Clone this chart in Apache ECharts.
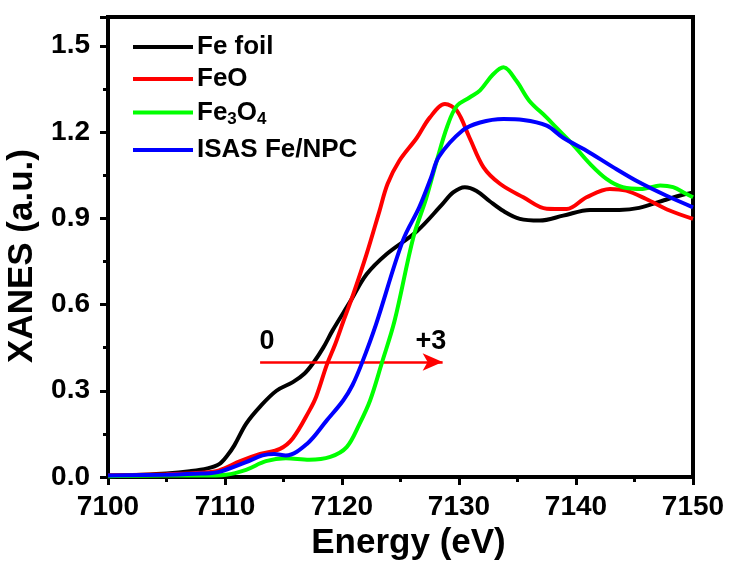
<!DOCTYPE html>
<html>
<head>
<meta charset="utf-8">
<script src="https://cdn.jsdelivr.net/npm/echarts@6/dist/echarts.min.js"></script>
<style>html,body{margin:0;padding:0;background:#fff;}#c{width:735px;height:561px;}</style>
</head>
<body>
<div id="c"></div>
<script>
// ---- data (Energy eV, XANES a.u.) ----
const seriesNames = ['Fe foil', 'FeO', 'Fe3O4', 'ISAS Fe/NPC'];
const feFoil = [[7100,0.005],[7103,0.008],[7105,0.012],[7107,0.02],[7108.5,0.03],[7109.5,0.045],[7110.2,0.075],[7110.8,0.11],[7111.8,0.185],[7113,0.245],[7114.4,0.30],[7115.8,0.33],[7116.8,0.36],[7117.6,0.40],[7118.4,0.45],[7119.2,0.51],[7120.7,0.61],[7122.1,0.705],[7123.8,0.775],[7126.4,0.855],[7128.6,0.95],[7129.5,0.99],[7130.5,1.008],[7131.5,0.995],[7132.6,0.96],[7133.8,0.925],[7135.2,0.898],[7136.9,0.892],[7138.9,0.909],[7141.2,0.929],[7143.7,0.929],[7145.4,0.936],[7147.4,0.961],[7148.9,0.979],[7150,0.99]];
const feO = [[7100,0.005],[7105,0.01],[7108,0.015],[7109.5,0.023],[7111.3,0.055],[7113,0.08],[7114.7,0.098],[7115.8,0.135],[7117.2,0.23],[7117.8,0.28],[7118.7,0.39],[7119.4,0.46],[7120.1,0.54],[7121,0.64],[7122.1,0.775],[7123.2,0.925],[7123.9,1.02],[7124.9,1.10],[7126.4,1.18],[7127.5,1.25],[7128.8,1.297],[7129.8,1.275],[7130.9,1.18],[7132.1,1.077],[7133.5,1.02],[7135.5,0.973],[7137.5,0.933],[7139.2,0.932],[7140.9,0.973],[7142.9,1.002],[7144.3,0.996],[7146,0.967],[7148,0.927],[7150,0.898]];
const fe3o4 = [[7100,0.003],[7105,0.005],[7108,0.005],[7110.1,0.008],[7111.8,0.025],[7113.5,0.055],[7115.2,0.065],[7117.2,0.06],[7119,0.07],[7120.4,0.104],[7121.5,0.185],[7122.4,0.266],[7123.4,0.396],[7124.5,0.544],[7126.1,0.834],[7127.2,0.97],[7128.1,1.10],[7129,1.22],[7129.8,1.29],[7130.9,1.32],[7131.8,1.345],[7132.9,1.40],[7133.8,1.425],[7134.9,1.378],[7136,1.309],[7137.5,1.25],[7138.3,1.216],[7139.7,1.158],[7141.2,1.089],[7142.6,1.037],[7144,1.008],[7145.7,1.002],[7147.2,1.014],[7148.3,1.008],[7149.4,0.985],[7150,0.973]];
const isasFeNPC = [[7100,0.005],[7105,0.008],[7108,0.012],[7109.5,0.018],[7111.8,0.052],[7113.2,0.075],[7114.2,0.08],[7115.2,0.075],[7117,0.115],[7118.7,0.197],[7120.1,0.266],[7120.9,0.32],[7121.7,0.396],[7122.9,0.53],[7125.2,0.822],[7126.6,0.938],[7127.6,1.04],[7128.3,1.115],[7130.3,1.205],[7131.8,1.233],[7133.8,1.245],[7135.5,1.242],[7137.5,1.222],[7138.9,1.18],[7140.9,1.135],[7143.2,1.077],[7145.4,1.025],[7147.7,0.979],[7150,0.938]];
const arrowStart = [7113, 0.4];
const arrowEnd = [7128.6, 0.4];
const annotations = [{ name: '0', value: [7113.6, 0.47] }, { name: '+3', value: [7127.6, 0.47] }];
const xTicks = { min: 7100, max: 7150, interval: 10 };
const yTicks = { min: 0, max: 1.6, interval: 0.3 };

const FONT = 'Arial, "Liberation Sans", sans-serif';
const colors = ['#000000', '#ff0000', '#00ff00', '#0000ff'];
const dataSets = [feFoil, feO, fe3o4, isasFeNPC];
const legendCenters = [47, 79, 112, 150];

const chart = echarts.init(document.getElementById('c'), null, { renderer: 'canvas' });

const series = seriesNames.map((n, i) => ({
  name: n, type: 'line', data: dataSets[i], smooth: 0.35, showSymbol: false,
  lineStyle: { color: colors[i], width: 4 }, itemStyle: { color: colors[i] },
  z: 3 + i
}));
series.push({
  name: 'arrow', type: 'line', data: [], showSymbol: false,
  markLine: {
    silent: true, symbol: ['none', 'arrow'], symbolSize: [13, 20],
    lineStyle: { color: '#ff0000', width: 2.5, type: 'solid' }, label: { show: false },
    emphasis: { disabled: true },
    data: [[{ coord: arrowStart }, { coord: arrowEnd }]]
  },
  z: 10
});
series.push({
  name: 'notes', type: 'scatter', data: annotations, symbolSize: 1, silent: true,
  itemStyle: { color: 'rgba(0,0,0,0)' },
  label: { show: true, position: 'inside', formatter: p => p.name, color: '#000', opacity: 1,
    fontFamily: FONT, fontWeight: 'bold', fontSize: 27 },
  emphasis: { disabled: true },
  z: 11
});

const legends = seriesNames.map((n, i) => ({
  data: [n], orient: 'vertical', left: 133, top: legendCenters[i] - 15, padding: 0,
  icon: 'rect', itemWidth: 60, itemHeight: 4, itemGap: 0, selectedMode: false,
  formatter: name => name === 'Fe3O4' ? '{t|Fe}{s|3}{t|O}{s|4}' : '{t|' + name + '}',
  textStyle: {
    color: '#000', fontFamily: FONT, fontWeight: 'bold', fontSize: 26, lineHeight: 30, padding: [0,0,0,-1],
    rich: {
      t: { fontFamily: FONT, fontWeight: 'bold', fontSize: 26, lineHeight: 30, color: '#000' },
      s: { fontFamily: FONT, fontWeight: 'bold', fontSize: 17, lineHeight: 30, color: '#000', padding: [14, 0, 0, 0] }
    }
  }
}));

chart.setOption({
  animation: false,
  backgroundColor: '#fff',
  grid: { left: 108, right: 42, top: 17, bottom: 84, show: true, borderColor: '#000', borderWidth: 4,
    containLabel: false, outerBoundsMode: 'none' },
  legend: legends,
  xAxis: {
    type: 'value', min: xTicks.min, max: xTicks.max, interval: xTicks.interval,
    name: 'Energy (eV)', nameLocation: 'middle', nameGap: 44,
    nameTextStyle: { fontFamily: FONT, fontWeight: 'bold', fontSize: 35, color: '#000', padding: [0, 0, 0, 16] },
    axisLine: { show: true, onZero: false, lineStyle: { color: '#000', width: 4 } },
    axisTick: { show: true, inside: false, length: 8, lineStyle: { color: '#000', width: 3 } },
    minorTick: { show: true, splitNumber: 2, length: 5, lineStyle: { color: '#000', width: 3 } },
    axisLabel: { fontFamily: FONT, fontWeight: 'bold', fontSize: 28, color: '#000', margin: 16,
      formatter: v => String(v) },
    splitLine: { show: false }
  },
  yAxis: {
    type: 'value', min: yTicks.min, max: yTicks.max, interval: yTicks.interval,
    name: 'XANES (a.u.)', nameLocation: 'middle', nameGap: 56, nameRotate: 90,
    nameTextStyle: { fontFamily: FONT, fontWeight: 'bold', fontSize: 35, color: '#000', padding: [0, 18, 0, 0] },
    axisLine: { show: true, onZero: false, lineStyle: { color: '#000', width: 4 } },
    axisTick: { show: true, inside: false, length: 8, lineStyle: { color: '#000', width: 3 } },
    minorTick: { show: true, splitNumber: 2, length: 5, lineStyle: { color: '#000', width: 3 } },
    axisLabel: { fontFamily: FONT, fontWeight: 'bold', fontSize: 28, color: '#000', margin: 18, showMaxLabel: false,
      formatter: v => v.toFixed(1) },
    splitLine: { show: false }
  },
  series: series
});
</script>
</body>
</html>
